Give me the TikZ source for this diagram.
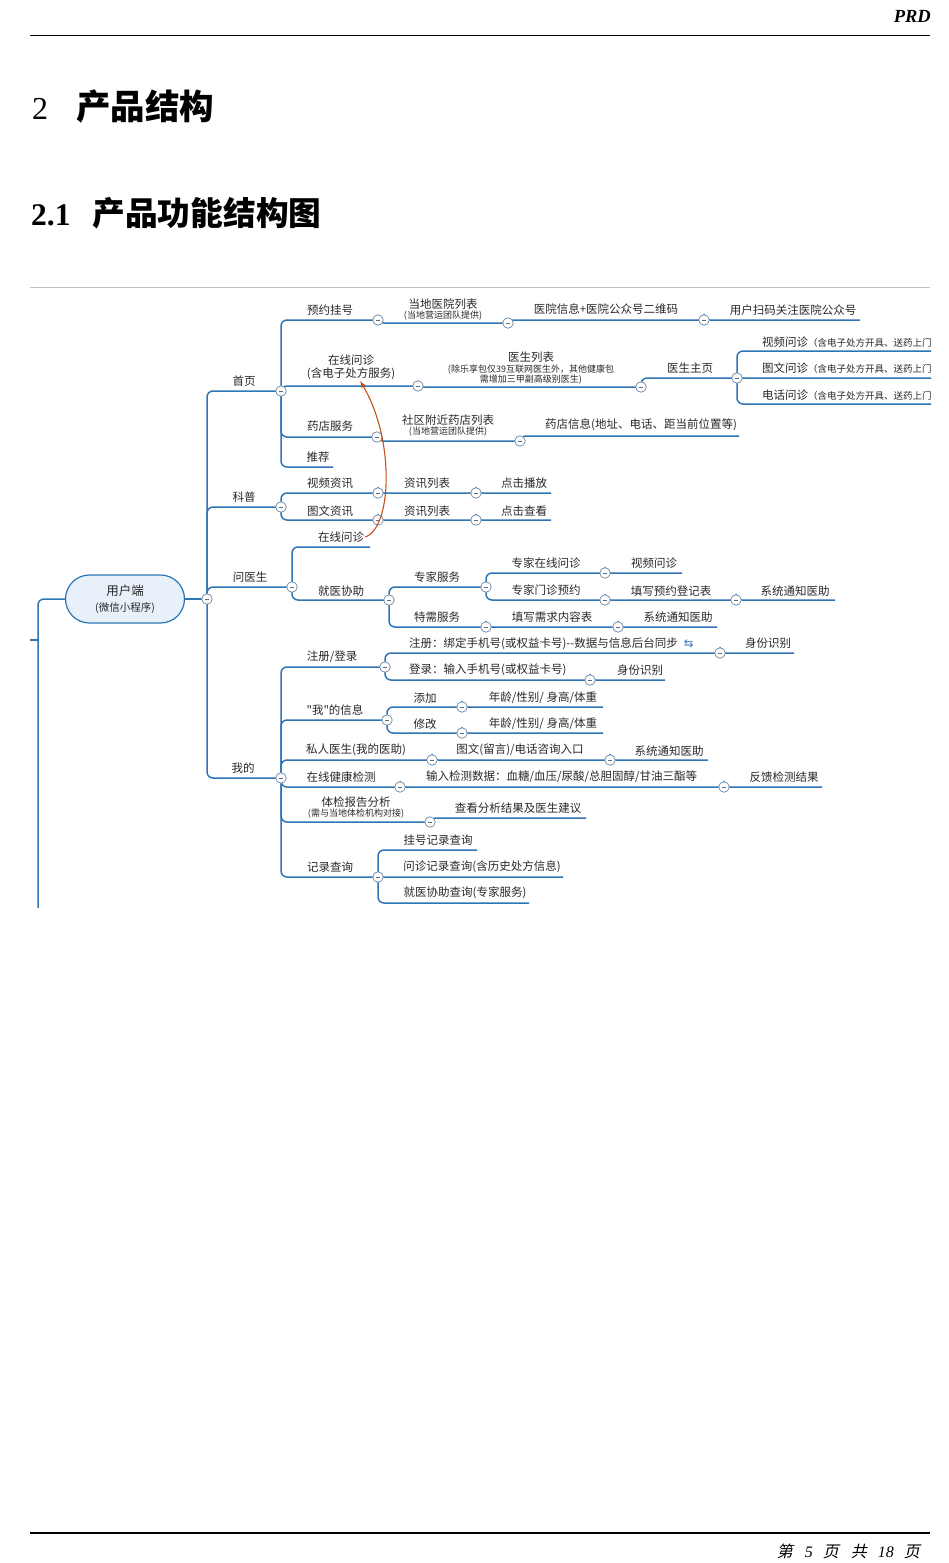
\documentclass[tikz,border=0pt]{standalone}
\usepackage{fontspec}
\setmainfont{Liberation Serif}
\newfontfamily\cjk{Noto Sans CJK SC}
\newfontfamily\cjkslant[FakeSlant=0.22]{Noto Sans CJK SC}
\newfontfamily\symf{DejaVu Sans}
\usepackage{tikz}
\usetikzlibrary{positioning, backgrounds, arrows.meta}

\definecolor{lineblue}{RGB}{46,117,182}
\definecolor{togline}{RGB}{110,140,170}
\definecolor{pillfill}{RGB}{232,241,250}
\definecolor{linkred}{RGB}{197,80,28}
\definecolor{txt}{RGB}{40,40,40}
\newcommand{\smallf}{\fontsize{9}{10}\selectfont}
\newcommand{\notef}{\fontsize{9.5}{10}\selectfont}

\begin{document}
\begin{tikzpicture}[x=1pt, y=-1pt, >=Latex,
  topic/.style={font=\cjk\fontsize{11.5}{13}\selectfont, text=txt, inner sep=1pt, align=center},
  branch/.style={draw=lineblue, line width=1.5pt, rounded corners=6pt},
  tog/.style={circle, draw=togline, fill=white, line width=0.75pt, minimum size=10.5pt, inner sep=0pt,
    path picture={\draw[txt!70, line width=0.7pt] ([xshift=2.8pt]path picture bounding box.west) -- ([xshift=-2.8pt]path picture bounding box.east);}},
  pill/.style={draw=lineblue, fill=pillfill, line width=1.2pt, rounded corners=24pt, minimum width=119pt, minimum height=48pt, align=center, font=\cjk\fontsize{12.5}{15}\selectfont, text=txt},
  link/.style={draw=linkred, line width=1.1pt, -{Latex[length=7pt,width=5pt]}}]

  \useasboundingbox (0,0) rectangle (949,1563);

  % page head and headings
  \node[anchor=east, inner sep=0pt, font=\bfseries\itshape\fontsize{18.5}{20}\selectfont] (prd) at (931,16) {PRD};
  \draw[line width=1.3pt] (30,35.5) -- (930,35.5);
  \node[anchor=west, inner sep=0pt, font=\fontsize{32}{36}\selectfont] (sec) at (32,107) {2\hspace{28pt}{\cjk\bfseries\fontsize{34.5}{38}\selectfont 产品结构}};
  \node[anchor=west, inner sep=0pt, font=\bfseries\fontsize{31.5}{36}\selectfont] (subsec) at (31,213) {2.1\hspace{22pt}{\cjk\fontsize{32.7}{36}\selectfont 产品功能结构图}};
  \draw[black!25, line width=0.8pt] (30,287) -- (930,287);

  % parent map stub
  \coordinate (stub) at (30,640);
  \coordinate (stubk) at (38,640);
  \coordinate (lbot) at (38,908);
  \node[pill] (user) at (125,599) {用户端\\[1pt]{\fontsize{10.5}{12}\selectfont (微信小程序)}};
  \node[tog] (root-o) at (207,599) {};

  % level 1
  \node[topic] (home) at (244,381) {首页};
  \node[tog] (home-o) at (281,391) {};
  \node[topic] (kp) at (244,497) {科普};
  \node[tog] (kp-o) at (281,507) {};
  \node[topic] (ask) at (250,577) {问医生};
  \node[tog] (ask-o) at (292,587) {};
  \node[topic] (me) at (243,768) {我的};
  \node[tog] (me-o) at (281,778) {};

  % 首页
  \node[topic] (reg) at (330,310) {预约挂号};
  \node[tog] (reg-o) at (378,320) {};
  \node[topic] (hosp) at (443,310) {当地医院列表\\[-3pt]{\smallf (当地营运团队提供)}};
  \node[tog] (hosp-o) at (508,323) {};
  \node[topic] (info) at (606,309) {医院信息+医院公众号二维码};
  \node[tog] (info-o) at (704,320) {};
  \node[topic] (scan) at (793,310) {用户扫码关注医院公众号};
  \coordinate (scan-e) at (860,320);

  \node[topic] (zx) at (351,367) {在线问诊\\(含电子处方服务)};
  \node[tog] (zx-o) at (418,386) {};
  \node[topic] (doc) at (531,368) {医生列表\\[-2pt]{\smallf (除乐享包仅39互联网医生外，其他健康包}\\[-3pt]{\smallf 需增加三甲副高级别医生)}};
  \node[tog] (doc-o) at (641,387) {};
  \node[topic] (dpage) at (690,368) {医生主页};
  \node[tog] (dpage-o) at (737,378) {};
  \begin{scope}
    \clip (0,0) rectangle (931,1563);
    \node[topic, anchor=west] (vq) at (761,342) {视频问诊{\notef（含电子处方开具、送药上门）}};
    \node[topic, anchor=west] (tw) at (761,368) {图文问诊{\notef（含电子处方开具、送药上门）}};
    \node[topic, anchor=west] (tel) at (761,395) {电话问诊{\notef（含电子处方开具、送药上门）}};
  \end{scope}
  \coordinate (vq-e) at (931,351);
  \coordinate (tw-e) at (931,378);
  \coordinate (tel-e) at (931,404);

  \node[topic] (yd) at (330,426) {药店服务};
  \node[tog] (yd-o) at (377,437) {};
  \node[topic] (sq) at (448,426) {社区附近药店列表\\[-3pt]{\smallf (当地营运团队提供)}};
  \node[tog] (sq-o) at (520,441) {};
  \node[topic] (ydinfo) at (641,425) {药店信息(地址、电话、距当前位置等)};
  \coordinate (ydinfo-e) at (739,436);
  \node[topic] (tj) at (318,457) {推荐};
  \coordinate (tj-e) at (333,467);

  % 科普
  \node[topic] (sp) at (330,483) {视频资讯};
  \node[tog] (sp-o) at (378,493) {};
  \node[topic] (list1) at (427,483) {资讯列表};
  \node[tog] (list1-o) at (476,493) {};
  \node[topic] (play) at (524,483) {点击播放};
  \coordinate (play-e) at (551,493);
  \node[topic] (tw2) at (330,511) {图文资讯};
  \node[tog] (tw2-o) at (378,520) {};
  \node[topic] (list2) at (427,511) {资讯列表};
  \node[tog] (list2-o) at (476,520) {};
  \node[topic] (view) at (524,511) {点击查看};
  \coordinate (view-e) at (551,520);

  % 问医生
  \node[topic] (onl) at (341,537) {在线问诊};
  \coordinate (onl-e) at (370,547);
  \node[topic] (help) at (341,591) {就医协助};
  \node[tog] (help-o) at (389,600) {};
  \node[topic] (exp) at (437,577) {专家服务};
  \node[tog] (exp-o) at (486,587) {};
  \node[topic] (expon) at (546,563) {专家在线问诊};
  \node[tog] (expon-o) at (605,573) {};
  \node[topic] (vid) at (654,563) {视频问诊};
  \coordinate (vid-e) at (682,573);
  \node[topic] (expbk) at (546,590) {专家门诊预约};
  \node[tog] (expbk-o) at (605,600) {};
  \node[topic] (form) at (671,591) {填写预约登记表};
  \node[tog] (form-o) at (736,600) {};
  \node[topic] (ntf1) at (795,591) {系统通知医助};
  \coordinate (ntf1-e) at (835,600);
  \node[topic] (spec) at (437,617) {特需服务};
  \node[tog] (spec-o) at (486,627) {};
  \node[topic] (need) at (552,617) {填写需求内容表};
  \node[tog] (need-o) at (618,627) {};
  \node[topic] (ntf2) at (678,617) {系统通知医助};
  \coordinate (ntf2-e) at (717,627);

  % 我的
  \node[topic] (login) at (332,657) {注册/登录};
  \node[tog] (login-o) at (385,667) {};
  \node[topic, anchor=west] (signup) at (408,644) {注册：绑定手机号(或权益卡号)-{}-数据与信息后台同步\hspace{6pt}{\symf\color{lineblue}⇆}};
  \node[tog] (signup-o) at (720,653) {};
  \node[topic] (id1) at (768,643) {身份识别};
  \coordinate (id1-e) at (794,653);
  \node[topic, anchor=west] (signin) at (408,670) {登录：输入手机号(或权益卡号)};
  \node[tog] (signin-o) at (590,680) {};
  \node[topic] (id2) at (640,670) {身份识别};
  \coordinate (id2-e) at (665,680);
  \node[topic] (myinfo) at (335,710) {"我"的信息};
  \node[tog] (myinfo-o) at (387,720) {};
  \node[topic] (add) at (425,698) {添加};
  \node[tog] (add-o) at (462,707) {};
  \node[topic] (addv) at (543,698) {年龄/性别/ 身高/体重};
  \coordinate (addv-e) at (603,707);
  \node[topic] (mod) at (425,724) {修改};
  \node[tog] (mod-o) at (462,733) {};
  \node[topic] (modv) at (543,724) {年龄/性别/ 身高/体重};
  \coordinate (modv-e) at (603,733);
  \node[topic] (pd) at (356,750) {私人医生(我的医助)};
  \node[tog] (pd-o) at (432,760) {};
  \node[topic] (entry) at (520,750) {图文(留言)/电话咨询入口};
  \node[tog] (entry-o) at (610,760) {};
  \node[topic] (ntf3) at (669,751) {系统通知医助};
  \coordinate (ntf3-e) at (708,760);
  \node[topic] (hc) at (341,777) {在线健康检测};
  \node[tog] (hc-o) at (400,787) {};
  \node[topic, anchor=west] (input) at (425,777) {输入检测数据：血糖/血压/尿酸/总胆固醇/甘油三酯等};
  \node[tog] (input-o) at (724,787) {};
  \node[topic] (fb) at (784,777) {反馈检测结果};
  \coordinate (fb-e) at (822,787);
  \node[topic] (rep) at (356,808) {体检报告分析\\[-3pt]{\smallf (需与当地体检机构对接)}};
  \node[tog] (rep-o) at (430,822) {};
  \node[topic] (repv) at (518,808) {查看分析结果及医生建议};
  \coordinate (repv-e) at (586,818);
  \node[topic] (rec) at (330,867) {记录查询};
  \node[tog] (rec-o) at (378,877) {};
  \node[topic] (r1) at (438,840) {挂号记录查询};
  \coordinate (r1-e) at (477,850);
  \node[topic] (r2) at (482,867) {问诊记录查询(含历史处方信息)};
  \coordinate (r2-e) at (563,877);
  \node[topic] (r3) at (465,893) {就医协助查询(专家服务)};
  \coordinate (r3-e) at (529,903);

  % branches
  \begin{scope}[on background layer]
    \draw[branch] (stub) -- (stubk);
    \draw[branch] (lbot) |- (user.west);
    \draw[branch] (user.east) -- (root-o.center);
    \draw[branch] (root-o.center) |- (home-o.center);
    \draw[branch] (root-o.center) |- (kp-o.center);
    \draw[branch] (root-o.center) |- (ask-o.center);
    \draw[branch] (root-o.center) |- (me-o.center);

    \draw[branch] (home-o.center) |- (reg-o.center);
    \draw[branch] (reg-o.center) |- (hosp-o.center);
    \draw[branch] (hosp-o.center) |- (info-o.center);
    \draw[branch] (info-o.center) |- (scan-e);
    \draw[branch] (home-o.center) |- (zx-o.center);
    \draw[branch] (zx-o.center) |- (doc-o.center);
    \draw[branch] (doc-o.center) |- (dpage-o.center);
    \draw[branch] (dpage-o.center) |- (vq-e);
    \draw[branch] (dpage-o.center) |- (tw-e);
    \draw[branch] (dpage-o.center) |- (tel-e);
    \draw[branch] (home-o.center) |- (yd-o.center);
    \draw[branch] (yd-o.center) |- (sq-o.center);
    \draw[branch] (sq-o.center) |- (ydinfo-e);
    \draw[branch] (home-o.center) |- (tj-e);

    \draw[branch] (kp-o.center) |- (sp-o.center);
    \draw[branch] (sp-o.center) |- (list1-o.center);
    \draw[branch] (list1-o.center) |- (play-e);
    \draw[branch] (kp-o.center) |- (tw2-o.center);
    \draw[branch] (tw2-o.center) |- (list2-o.center);
    \draw[branch] (list2-o.center) |- (view-e);

    \draw[branch] (ask-o.center) |- (onl-e);
    \draw[branch] (ask-o.center) |- (help-o.center);
    \draw[branch] (help-o.center) |- (exp-o.center);
    \draw[branch] (exp-o.center) |- (expon-o.center);
    \draw[branch] (expon-o.center) |- (vid-e);
    \draw[branch] (exp-o.center) |- (expbk-o.center);
    \draw[branch] (expbk-o.center) |- (form-o.center);
    \draw[branch] (form-o.center) |- (ntf1-e);
    \draw[branch] (help-o.center) |- (spec-o.center);
    \draw[branch] (spec-o.center) |- (need-o.center);
    \draw[branch] (need-o.center) |- (ntf2-e);

    \draw[branch] (me-o.center) |- (login-o.center);
    \draw[branch] (login-o.center) |- (signup-o.center);
    \draw[branch] (signup-o.center) |- (id1-e);
    \draw[branch] (login-o.center) |- (signin-o.center);
    \draw[branch] (signin-o.center) |- (id2-e);
    \draw[branch] (me-o.center) |- (myinfo-o.center);
    \draw[branch] (myinfo-o.center) |- (add-o.center);
    \draw[branch] (add-o.center) |- (addv-e);
    \draw[branch] (myinfo-o.center) |- (mod-o.center);
    \draw[branch] (mod-o.center) |- (modv-e);
    \draw[branch] (me-o.center) |- (pd-o.center);
    \draw[branch] (pd-o.center) |- (entry-o.center);
    \draw[branch] (entry-o.center) |- (ntf3-e);
    \draw[branch] (me-o.center) |- (hc-o.center);
    \draw[branch] (hc-o.center) |- (input-o.center);
    \draw[branch] (input-o.center) |- (fb-e);
    \draw[branch] (me-o.center) |- (rep-o.center);
    \draw[branch] (rep-o.center) |- (repv-e);
    \draw[branch] (me-o.center) |- (rec-o.center);
    \draw[branch] (rec-o.center) |- (r1-e);
    \draw[branch] (rec-o.center) |- (r2-e);
    \draw[branch] (rec-o.center) |- (r3-e);
  \end{scope}

  % cross link
  \draw[link] (onl.east) .. controls (392,528) and (395,440) .. ([xshift=9pt]zx.south);

  % page foot
  \draw[line width=1.2pt] (30,1533) -- (930,1533);
  \node[anchor=east, inner sep=0pt, font=\itshape\fontsize{16}{18}\selectfont] (foot) at (920,1551) {{\cjkslant 第}\hspace{12pt}5\hspace{10pt}{\cjkslant 页}\hspace{12pt}{\cjkslant 共}\hspace{11pt}18\hspace{10pt}{\cjkslant 页}};
\end{tikzpicture}
\end{document}
